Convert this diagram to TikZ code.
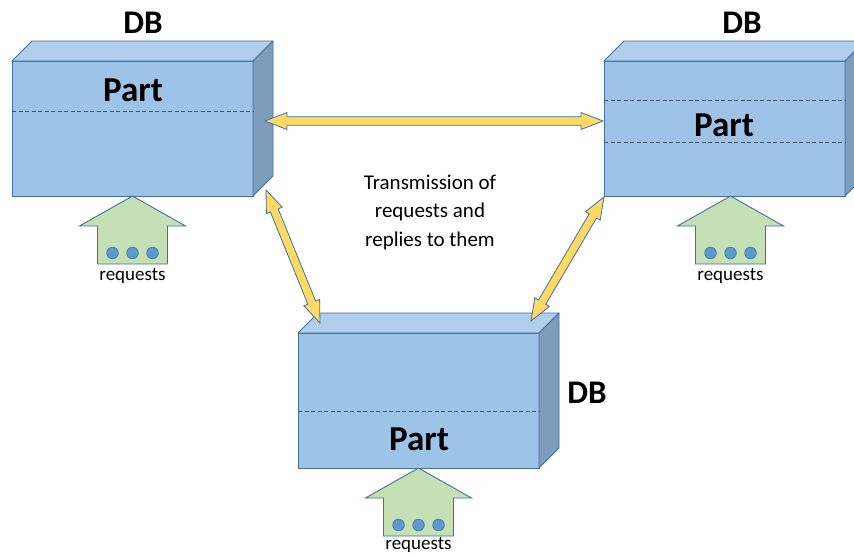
\documentclass[tikz,border=0pt]{standalone}
\usepackage{fontspec}
\setmainfont{Carlito}
\usetikzlibrary{calc}
\definecolor{frontc}{HTML}{9DC3E6}
\definecolor{topc}{HTML}{B1CFEC}
\definecolor{sidec}{HTML}{7E9DBC}
\definecolor{edgec}{HTML}{41719C}
\definecolor{greenc}{HTML}{C5E0B4}
\definecolor{dotc}{HTML}{5B9BD5}
\definecolor{yelc}{HTML}{FFD966}
\definecolor{dashc}{HTML}{44546A}
\tikzset{
  frontbox/.style={draw=edgec, fill=frontc, line width=0.9pt, minimum width=241pt, minimum height=135pt, inner sep=0pt, outer sep=0pt},
  topface/.style={draw=edgec, fill=topc, line width=0.9pt, line join=round},
  sideface/.style={draw=edgec, fill=sidec, line width=0.9pt, line join=round},
  sepline/.style={draw=dashc, line width=0.8pt, dash pattern=on 4pt off 2.5pt},
  yarrow/.style={draw=edgec, fill=yelc, line width=0.8pt, line join=miter},
  garrow/.style={draw=edgec, fill=greenc, line width=0.9pt, line join=miter},
  dotstyle/.style={draw=edgec, fill=dotc, line width=0.6pt},
  parttext/.style={font=\fontsize{35}{40}\selectfont\bfseries, inner sep=0pt},
  dbtext/.style={font=\fontsize{33}{38}\selectfont\bfseries, inner sep=0pt},
  reqtext/.style={font=\fontsize{19}{22}\selectfont, inner sep=0pt},
  midtext/.style={font=\fontsize{21}{28.5}\selectfont, align=center, inner sep=0pt}
}
\newcommand\dbbox[3]{%
  \node[frontbox] (#1) at (#2,#3) {};
  \filldraw[topface] (#1.north west) -- ++(20,-20) -- ++(241,0) -- (#1.north east) -- cycle;
  \filldraw[sideface] (#1.north east) -- ++(20,-20) -- ++(0,135) -- (#1.south east) -- cycle;
}
\newcommand\dblarrow[2]{%
  \filldraw[yarrow] (#1)
   -- ($(#1)!22pt!(#2)!8.5pt!90:(#2)$)
   -- ($(#1)!22pt!(#2)!4.2pt!90:(#2)$)
   -- ($(#2)!22pt!(#1)!4.2pt!-90:(#1)$)
   -- ($(#2)!22pt!(#1)!8.5pt!-90:(#1)$)
   -- (#2)
   -- ($(#2)!22pt!(#1)!8.5pt!90:(#1)$)
   -- ($(#2)!22pt!(#1)!4.2pt!90:(#1)$)
   -- ($(#1)!22pt!(#2)!4.2pt!-90:(#2)$)
   -- ($(#1)!22pt!(#2)!8.5pt!-90:(#2)$)
   -- cycle;
}
\newcommand\reqarrow[2]{%
  \filldraw[garrow] (#1) -- ++(53,30) -- ++(-18,0) -- ++(0,38) -- ++(-70,0) -- ++(0,-38) -- ++(-18,0) -- cycle;
  \foreach \dx in {-20,0,20} \filldraw[dotstyle] ($(#1)+(\dx,57)$) circle (5.8);
  \node[reqtext] (#1t) at ($(#1)+(0,#2)$) {requests};
}
\begin{document}
\begin{tikzpicture}[x=1pt,y=-1pt]
\useasboundingbox (0,0) rectangle (854,555);
\fill[white] (0,0) rectangle (854,555);

% boxes
\dbbox{b1}{132.5}{128.5}
\dbbox{b2}{724.5}{128.5}
\dbbox{b3}{418.5}{400.5}

% separators
\draw[sepline] (b1.west |- 0,111) -- (b1.east |- 0,111);
\draw[sepline] (b2.west |- 0,100) -- (b2.east |- 0,100);
\draw[sepline] (b2.west |- 0,142) -- (b2.east |- 0,142);
\draw[sepline] (b3.west |- 0,411) -- (b3.east |- 0,411);

% labels
\node[parttext] (p1) at (133,90) {Part};
\node[parttext] (p2) at (724,125) {Part};
\node[parttext] (p3) at (419,439) {Part};
\node[dbtext] (d1) at (143,23) {DB};
\node[dbtext] (d2) at (742,23) {DB};
\node[dbtext] (d3) at (587,393) {DB};

% request arrows
\coordinate (r1) at (b1.south);
\coordinate (r2) at ($(b2.south)+(6,0)$);
\coordinate (r3) at (b3.south);
\reqarrow{r1}{80}
\reqarrow{r2}{80}
\reqarrow{r3}{77}

% transmission arrows
\coordinate (h1) at (265,121);
\coordinate (h2) at (603,121);
\coordinate (l1) at (266,190);
\coordinate (l2) at (320,323);
\coordinate (k1) at (604,197);
\coordinate (k2) at (531,321);
\dblarrow{h1}{h2}
\dblarrow{l1}{l2}
\dblarrow{k1}{k2}

\node[midtext] (mt) at (430,212) {Transmission of\\requests and\\replies to them};
\end{tikzpicture}
\end{document}
